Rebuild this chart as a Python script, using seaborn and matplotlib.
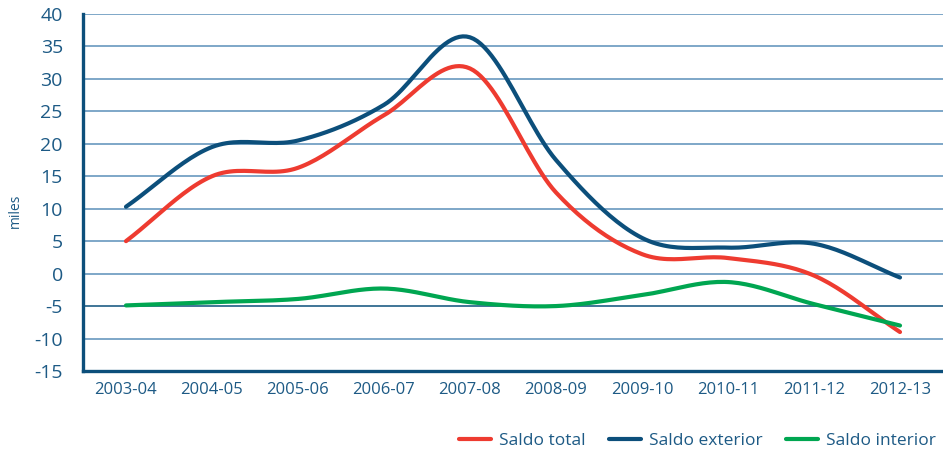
import numpy as np
import pandas as pd
import matplotlib
matplotlib.use("Agg")
import matplotlib.pyplot as plt
import seaborn as sns
from matplotlib.lines import Line2D

seasons = ["2003-04", "2004-05", "2005-06", "2006-07", "2007-08",
           "2008-09", "2009-10", "2010-11", "2011-12", "2012-13"]
saldo_total = [5.0, 15.0, 16.3, 24.4, 31.6, 12.5, 3.0, 2.4, -0.3, -9.0]
saldo_exterior = [10.3, 19.5, 20.5, 26.0, 36.4, 17.5, 5.5, 4.0, 4.6, -0.6]
saldo_interior = [-4.9, -4.4, -3.9, -2.3, -4.4, -5.0, -3.3, -1.3, -4.7, -8.0]

series_names = ["Saldo total", "Saldo exterior", "Saldo interior"]
colors = ["#ee3b30", "#0c4f7b", "#00a651"]
text_col = "#1d5a85"
grid_col = "#5b8fb9"


def smooth(y, steps=24):
    # Catmull-Rom style cubic through the points, only for drawing a smooth line
    y = np.asarray(y, dtype=float)
    n = len(y)
    m = np.zeros(n)
    m[1:-1] = (y[2:] - y[:-2]) / 2
    m[0] = y[1] - y[0]
    m[-1] = y[-1] - y[-2]
    xs, ys = [], []
    for i in range(n - 1):
        t = np.linspace(0, 1, steps, endpoint=(i == n - 2))
        h00 = 2 * t**3 - 3 * t**2 + 1
        h10 = t**3 - 2 * t**2 + t
        h01 = -2 * t**3 + 3 * t**2
        h11 = t**3 - t**2
        xs.append(i + t)
        ys.append(h00 * y[i] + h10 * m[i] + h01 * y[i + 1] + h11 * m[i + 1])
    return np.concatenate(xs), np.concatenate(ys)


frames = []
for name, vals in zip(series_names, [saldo_total, saldo_exterior, saldo_interior]):
    xs, ys = smooth(vals)
    frames.append(pd.DataFrame({"x": xs, "value": ys, "serie": name}))
df = pd.concat(frames, ignore_index=True)

sns.set_style("white")
plt.rcParams["font.family"] = ["Open Sans", "DejaVu Sans"]
plt.rcParams["axes.unicode_minus"] = False

fig = plt.figure(figsize=(9.43, 4.5), dpi=100)
ax = fig.add_axes([0.088, 0.1756, 0.912, 0.7934])

for yv in range(-10, 45, 5):
    ax.axhline(yv, color="#0c4f7b" if yv == -5 else grid_col,
               lw=1.1, zorder=0)

sns.lineplot(data=df, x="x", y="value", hue="serie", palette=colors,
             hue_order=series_names, sort=False, estimator=None,
             linewidth=3.0, legend=False, ax=ax)

ax.set_xlim(-0.5, 9.5)
ax.set_ylim(-15, 40)
ax.set_yticks(range(-15, 45, 5))
ax.set_xticks(np.arange(-0.5, 10, 1))
ax.set_xticklabels([])
ax.set_xticks(range(len(seasons)), minor=True)
ax.set_xticklabels(seasons, minor=True)
ax.tick_params(axis="x", which="minor", length=0, labelsize=12,
               labelcolor=text_col, pad=8)
ax.tick_params(axis="x", which="major", length=7, width=2.2,
               color="#0c4f7b", direction="out")
ax.tick_params(axis="y", length=6.5, width=1.5, color="#0c4f7b",
               labelsize=14, labelcolor=text_col, pad=8)
ax.set_xlabel("")
ax.set_ylabel("miles", color=text_col, fontsize=10)
ax.yaxis.set_label_coords(-0.07, 0.45)

for side in ["top", "right"]:
    ax.spines[side].set_visible(False)
for side in ["left", "bottom"]:
    ax.spines[side].set_color("#0c4f7b")
    ax.spines[side].set_linewidth(2.4)

handles = [Line2D([0], [0], color=c, lw=3.0) for c in colors]
leg = ax.legend(handles, series_names, loc="upper right",
                bbox_to_anchor=(1.0, -0.155), ncol=3, frameon=False,
                fontsize=12.5, handlelength=1.8, columnspacing=1.35,
                handletextpad=0.5, borderaxespad=0)
for t in leg.get_texts():
    t.set_color(text_col)

fig.savefig("out.png", dpi=100)
